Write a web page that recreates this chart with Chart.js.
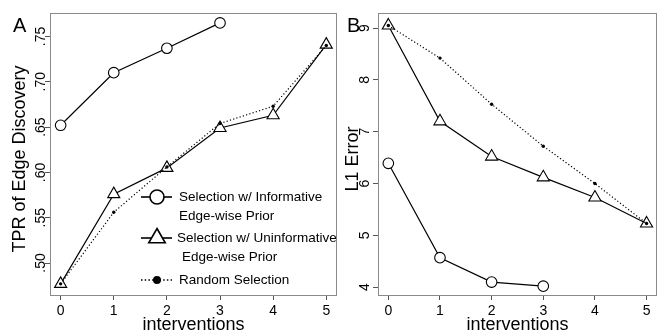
<!DOCTYPE html>
<html>
<head>
<meta charset="utf-8">
<script src="https://cdn.jsdelivr.net/npm/chart.js@4.4.1/dist/chart.umd.min.js"></script>
<style>
  body { margin: 0; background: #fff; }
  #wrap { position: relative; width: 665px; height: 333px; }
  canvas { position: absolute; top: 0; }
</style>
</head>
<body>
<div id="wrap">
  <canvas id="chartA" width="345" height="333" style="left:0"></canvas>
  <canvas id="chartB" width="325" height="333" style="left:340px"></canvas>
</div>
<script>
// data
const interventions = [0, 1, 2, 3, 4, 5];
const xTicks = [0, 1, 2, 3, 4, 5];

const tprInformative = [0.652, 0.710, 0.737, 0.765];
const tprUninformative = [0.477, 0.576, 0.605, 0.649, 0.663, 0.741];
const tprRandom = [0.477, 0.556, 0.606, 0.654, 0.673, 0.740];
const tprTicks = [0.50, 0.55, 0.60, 0.65, 0.70, 0.75];

const l1Informative = [6.39, 4.57, 4.10, 4.02];
const l1Uninformative = [9.05, 7.20, 6.52, 6.12, 5.73, 5.23];
const l1Random = [9.05, 8.42, 7.53, 6.72, 6.00, 5.23];
const l1Ticks = [4, 5, 6, 7, 8, 9];

const legendLines = [
  ["Selection w/ Informative", "Edge-wise Prior"],
  ["Selection w/ Uninformative", "Edge-wise Prior"],
  ["Random Selection"]
];

const FONT = '"Liberation Sans", Arial, sans-serif';
const INK = "#000";

function pts(ys) {
  return ys.map((y, i) => ({ x: interventions[i], y: y }));
}

function makeDatasets(inf, uninf, rnd) {
  return [
    {
      data: pts(inf), borderColor: INK, borderWidth: 1.2,
      pointStyle: "circle", pointRadius: 5.3, pointBorderColor: INK,
      pointBackgroundColor: "#fff", pointBorderWidth: 1.1, order: 2
    },
    {
      data: pts(uninf), borderColor: INK, borderWidth: 1.2,
      pointStyle: "triangle", pointRadius: 7, pointBorderColor: INK,
      pointBackgroundColor: "#fff", pointBorderWidth: 1.1, order: 1
    },
    {
      data: pts(rnd), borderColor: INK, borderWidth: 1.2, borderDash: [1.2, 2.2],
      pointStyle: "circle", pointRadius: 1.7, pointBorderWidth: 0,
      pointBackgroundColor: INK, order: 0
    }
  ];
}

function drawMarker(ctx, style, r, x, y) {
  ctx.beginPath();
  if (style === "triangle") {
    ctx.moveTo(x, y - r);
    ctx.lineTo(x + r * 0.866, y + r * 0.5);
    ctx.lineTo(x - r * 0.866, y + r * 0.5);
    ctx.closePath();
  } else {
    ctx.arc(x, y, r, 0, Math.PI * 2);
  }
}

// box around plot + panel letter
const framePlugin = {
  id: "frame",
  beforeDatasetsDraw(chart, args, opts) {
    const { ctx, chartArea: a } = chart;
    ctx.save();
    ctx.strokeStyle = "#8a8a8a";
    ctx.lineWidth = 1;
    ctx.strokeRect(Math.round(a.left) + 0.5, Math.round(a.top) + 0.5,
      Math.round(a.right - a.left) - 1, Math.round(a.bottom - a.top));
    ctx.fillStyle = INK;
    ctx.font = "20px " + FONT;
    ctx.textBaseline = "alphabetic";
    ctx.fillText(opts.letter, opts.letterX, 32);
    ctx.restore();
  }
};

// R style legend inside panel A
const legendPlugin = {
  id: "rlegend",
  afterDatasetsDraw(chart, args, opts) {
    if (!opts.show) return;
    const ctx = chart.ctx;
    const rows = [197, 238, 280];
    const textX = [[179, 179], [177, 182], [179]];
    const styles = [
      { style: "circle", r: 7, fill: "#fff", dash: [] },
      { style: "triangle", r: 9.5, fill: "#fff", dash: [] },
      { style: "circle", r: 4, fill: INK, dash: [1.5, 2.2] }
    ];
    ctx.save();
    legendLines.forEach((lines, i) => {
      const y = rows[i];
      const s = styles[i];
      ctx.strokeStyle = INK;
      ctx.lineWidth = 1.6;
      ctx.setLineDash(s.dash);
      ctx.beginPath();
      ctx.moveTo(141, y);
      ctx.lineTo(172, y);
      ctx.stroke();
      ctx.setLineDash([]);
      drawMarker(ctx, s.style, s.r, 157, y);
      ctx.fillStyle = s.fill;
      ctx.fill();
      if (s.fill !== INK) ctx.stroke();
      ctx.fillStyle = INK;
      ctx.font = "13.5px " + FONT;
      ctx.textBaseline = "middle";
      lines.forEach((t, j) => ctx.fillText(t, textX[i][j], y + j * 19));
    });
    ctx.restore();
  }
};

function makeChart(id, cfg) {
  return new Chart(document.getElementById(id), {
    type: "line",
    data: { datasets: makeDatasets(cfg.inf, cfg.uninf, cfg.rnd) },
    plugins: [framePlugin, legendPlugin],
    options: {
      responsive: false,
      animation: false,
      devicePixelRatio: 1,
      layout: { padding: { left: 0, top: 13, right: cfg.padRight, bottom: 0 } },
      plugins: {
        legend: { display: false },
        tooltip: { enabled: false },
        frame: { letter: cfg.letter, letterX: cfg.letterX },
        rlegend: { show: cfg.legend }
      },
      elements: { line: { tension: 0 } },
      scales: {
        x: {
          type: "linear",
          min: -0.2, max: 5.2,
          afterBuildTicks: s => { s.ticks = xTicks.map(v => ({ value: v })); },
          afterFit: s => { s.height = 38; },
          grid: { display: true, drawOnChartArea: false, drawTicks: true, tickLength: 5, color: "#555" },
          border: { display: false },
          ticks: { color: INK, font: { family: FONT, size: 14 }, padding: 3, maxRotation: 0, minRotation: 0 },
          title: { display: true, text: "interventions", color: INK, font: { family: FONT, size: 18 }, padding: { top: 0, bottom: -3 } }
        },
        y: {
          type: "linear",
          min: cfg.yMin, max: cfg.yMax,
          afterBuildTicks: s => { s.ticks = cfg.yTicks.map(v => ({ value: v })); },
          afterFit: s => { s.width = cfg.yWidth; },
          grid: { display: true, drawOnChartArea: false, drawTicks: true, tickLength: 5, color: "#555" },
          border: { display: false },
          ticks: {
            color: INK, font: { family: FONT, size: 14 },
            minRotation: 90, maxRotation: 90, crossAlign: "center",
            padding: cfg.tickPad,
            callback: cfg.fmt
          },
          // trailing spaces nudge the rotated title down a little, like the original
          title: { display: true, text: cfg.yTitle + "  ", color: INK, font: { family: FONT, size: 18 }, padding: { top: cfg.titlePad, bottom: 0 } }
        }
      }
    }
  });
}

makeChart("chartA", {
  inf: tprInformative, uninf: tprUninformative, rnd: tprRandom,
  yMin: 0.4647, yMax: 0.7759, yTicks: tprTicks,
  fmt: v => v.toFixed(2).replace(/^0/, ""),
  yTitle: "TPR of Edge Discovery",
  yWidth: 50, padRight: 6, tickPad: -5.5, titlePad: 9,
  letter: "A", letterX: 13, legend: true
});

makeChart("chartB", {
  inf: l1Informative, uninf: l1Uninformative, rnd: l1Random,
  yMin: 3.85, yMax: 9.29, yTicks: l1Ticks,
  fmt: v => String(v),
  yTitle: "L1 Error",
  yWidth: 38, padRight: 1, tickPad: 4, titlePad: 2.5,
  letter: "B", letterX: 7, legend: false
});
</script>
</body>
</html>
